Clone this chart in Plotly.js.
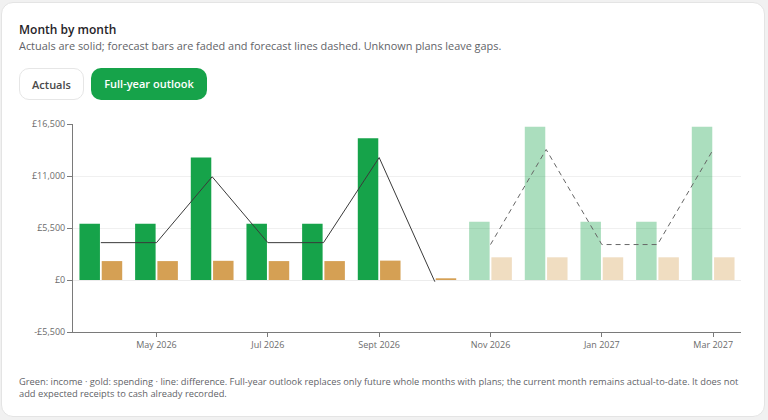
<!DOCTYPE html>
<html>
<head>
<meta charset="utf-8">
<script src="https://cdn.plot.ly/plotly-3.0.1.min.js"></script>
<style>
  html, body { margin: 0; padding: 0; width: 768px; height: 420px; background: #f1f1f1; overflow: hidden; }
  body { font-family: "Open Sans", "Noto Sans", sans-serif; position: relative; }
  .card { position: absolute; left: 1px; top: 2px; width: 764px; height: 415px; background: #fff;
          border: 1px solid #e4e4e4; border-radius: 12px; box-sizing: border-box; }
  .title { position: absolute; left: 19px; top: 21px; font-size: 12px; font-weight: 600; color: #1f2328; }
  .sub { position: absolute; left: 19px; top: 38px; font-size: 10.9px; color: #5f6368; }
  .btn { position: absolute; top: 68px; height: 32px; box-sizing: border-box; border-radius: 10px;
         font-size: 11px; font-weight: 600; line-height: 32px; text-align: center; }
  .b1 { left: 19px; width: 65px; border: 1px solid #e6e6e6; color: #4a4a4a; background: #fff; }
  .b2 { left: 91px; width: 116px; background: #16a34a; color: #fff; }
  .foot { position: absolute; left: 19px; top: 376px; font-size: 9.3px; line-height: 12px; color: #5f6368; white-space: nowrap; }
  #chart { position: absolute; left: 0; top: 110px; width: 768px; height: 250px; }
</style>
</head>
<body>
<div class="card"></div>
<div class="title">Month by month</div>
<div class="sub">Actuals are solid; forecast bars are faded and forecast lines dashed. Unknown plans leave gaps.</div>
<div class="btn b1">Actuals</div>
<div class="btn b2">Full-year outlook</div>
<div class="foot">Green: income · gold: spending · line: difference. Full-year outlook replaces only future whole months with plans; the current month remains actual-to-date. It does not<br>add expected receipts to cash already recorded.</div>
<div id="chart"></div>
<script>
const months = ["Apr 2026","May 2026","Jun 2026","Jul 2026","Aug 2026","Sep 2026","Oct 2026","Nov 2026","Dec 2026","Jan 2027","Feb 2027","Mar 2027"];
const isForecast = [false,false,false,false,false,false,false,true,true,true,true,true];
const income   = [5950, 5950, 12950, 5950, 5950, 15000, null, 6150, 16200, 6150, 6150, 16200];
const spending = [2000, 2000, 2030, 2000, 2000, 2050, 180, 2400, 2400, 2400, 2400, 2400];
const actualDiff   = [3950, 3950, 10920, 3950, 3950, 12950, -180, null, null, null, null, null];
const forecastDiff = [null, null, null, null, null, null, null, 3750, 13800, 3750, 3750, 13800];
const xTickVals = ["May 2026","Jul 2026","Sep 2026","Nov 2026","Jan 2027","Mar 2027"];
const xTickText = ["May 2026","Jul 2026","Sept 2026","Nov 2026","Jan 2027","Mar 2027"];
const yTickVals = [-5500, 0, 5500, 11000, 16500];
const yTickText = ["-£5,500","£0","£5,500","£11,000","£16,500"];

const green = "rgb(22,163,74)", greenF = "rgba(22,163,74,0.36)";
const gold = "rgb(213,160,84)", goldF = "rgba(213,160,84,0.36)";

const traces = [
  { type: "bar", x: months, y: income, name: "Income",
    marker: { color: isForecast.map(f => f ? greenF : green), line: { width: 0 } }, hoverinfo: "skip" },
  { type: "bar", x: months, y: spending, name: "Spending",
    marker: { color: isForecast.map(f => f ? goldF : gold), line: { width: 0 } }, hoverinfo: "skip" },
  { type: "scatter", mode: "lines", x: months, y: actualDiff, name: "Difference",
    line: { color: "#3a3a3a", width: 1 }, connectgaps: false, hoverinfo: "skip" },
  { type: "scatter", mode: "lines", x: months, y: forecastDiff, name: "Difference (forecast)",
    line: { color: "#666", width: 1, dash: "5px,4px" }, connectgaps: false, hoverinfo: "skip" }
];

const layout = {
  width: 768, height: 250,
  margin: { l: 73, r: 27, t: 14, b: 28 },
  paper_bgcolor: "rgba(0,0,0,0)", plot_bgcolor: "rgba(0,0,0,0)",
  showlegend: false,
  barmode: "group", bargap: 0.2, bargroupgap: 0.08,
  font: { family: "Open Sans, Noto Sans, sans-serif", size: 9, color: "#6b6b6b" },
  xaxis: {
    type: "category", categoryorder: "array", categoryarray: months,
    range: [-0.5, 11.5],
    tickmode: "array", tickvals: xTickVals, ticktext: xTickText,
    showline: true, linecolor: "#7a7a7a", linewidth: 1,
    ticks: "outside", ticklen: 4, tickcolor: "#7a7a7a",
    showgrid: false, zeroline: false,
    tickfont: { size: 9, color: "#6b6b6b" }
  },
  yaxis: {
    range: [-5500, 16500],
    tickmode: "array", tickvals: yTickVals, ticktext: yTickText,
    showline: true, linecolor: "#7a7a7a", linewidth: 1,
    ticks: "outside", ticklen: 5, tickcolor: "#7a7a7a",
    showgrid: true, gridcolor: "#f0f0f0", gridwidth: 1,
    zeroline: true, zerolinecolor: "#ececec", zerolinewidth: 1,
    tickfont: { size: 9, color: "#6b6b6b" }
  }
};

Plotly.newPlot("chart", traces, layout, { staticPlot: true, displayModeBar: false });
</script>
</body>
</html>
